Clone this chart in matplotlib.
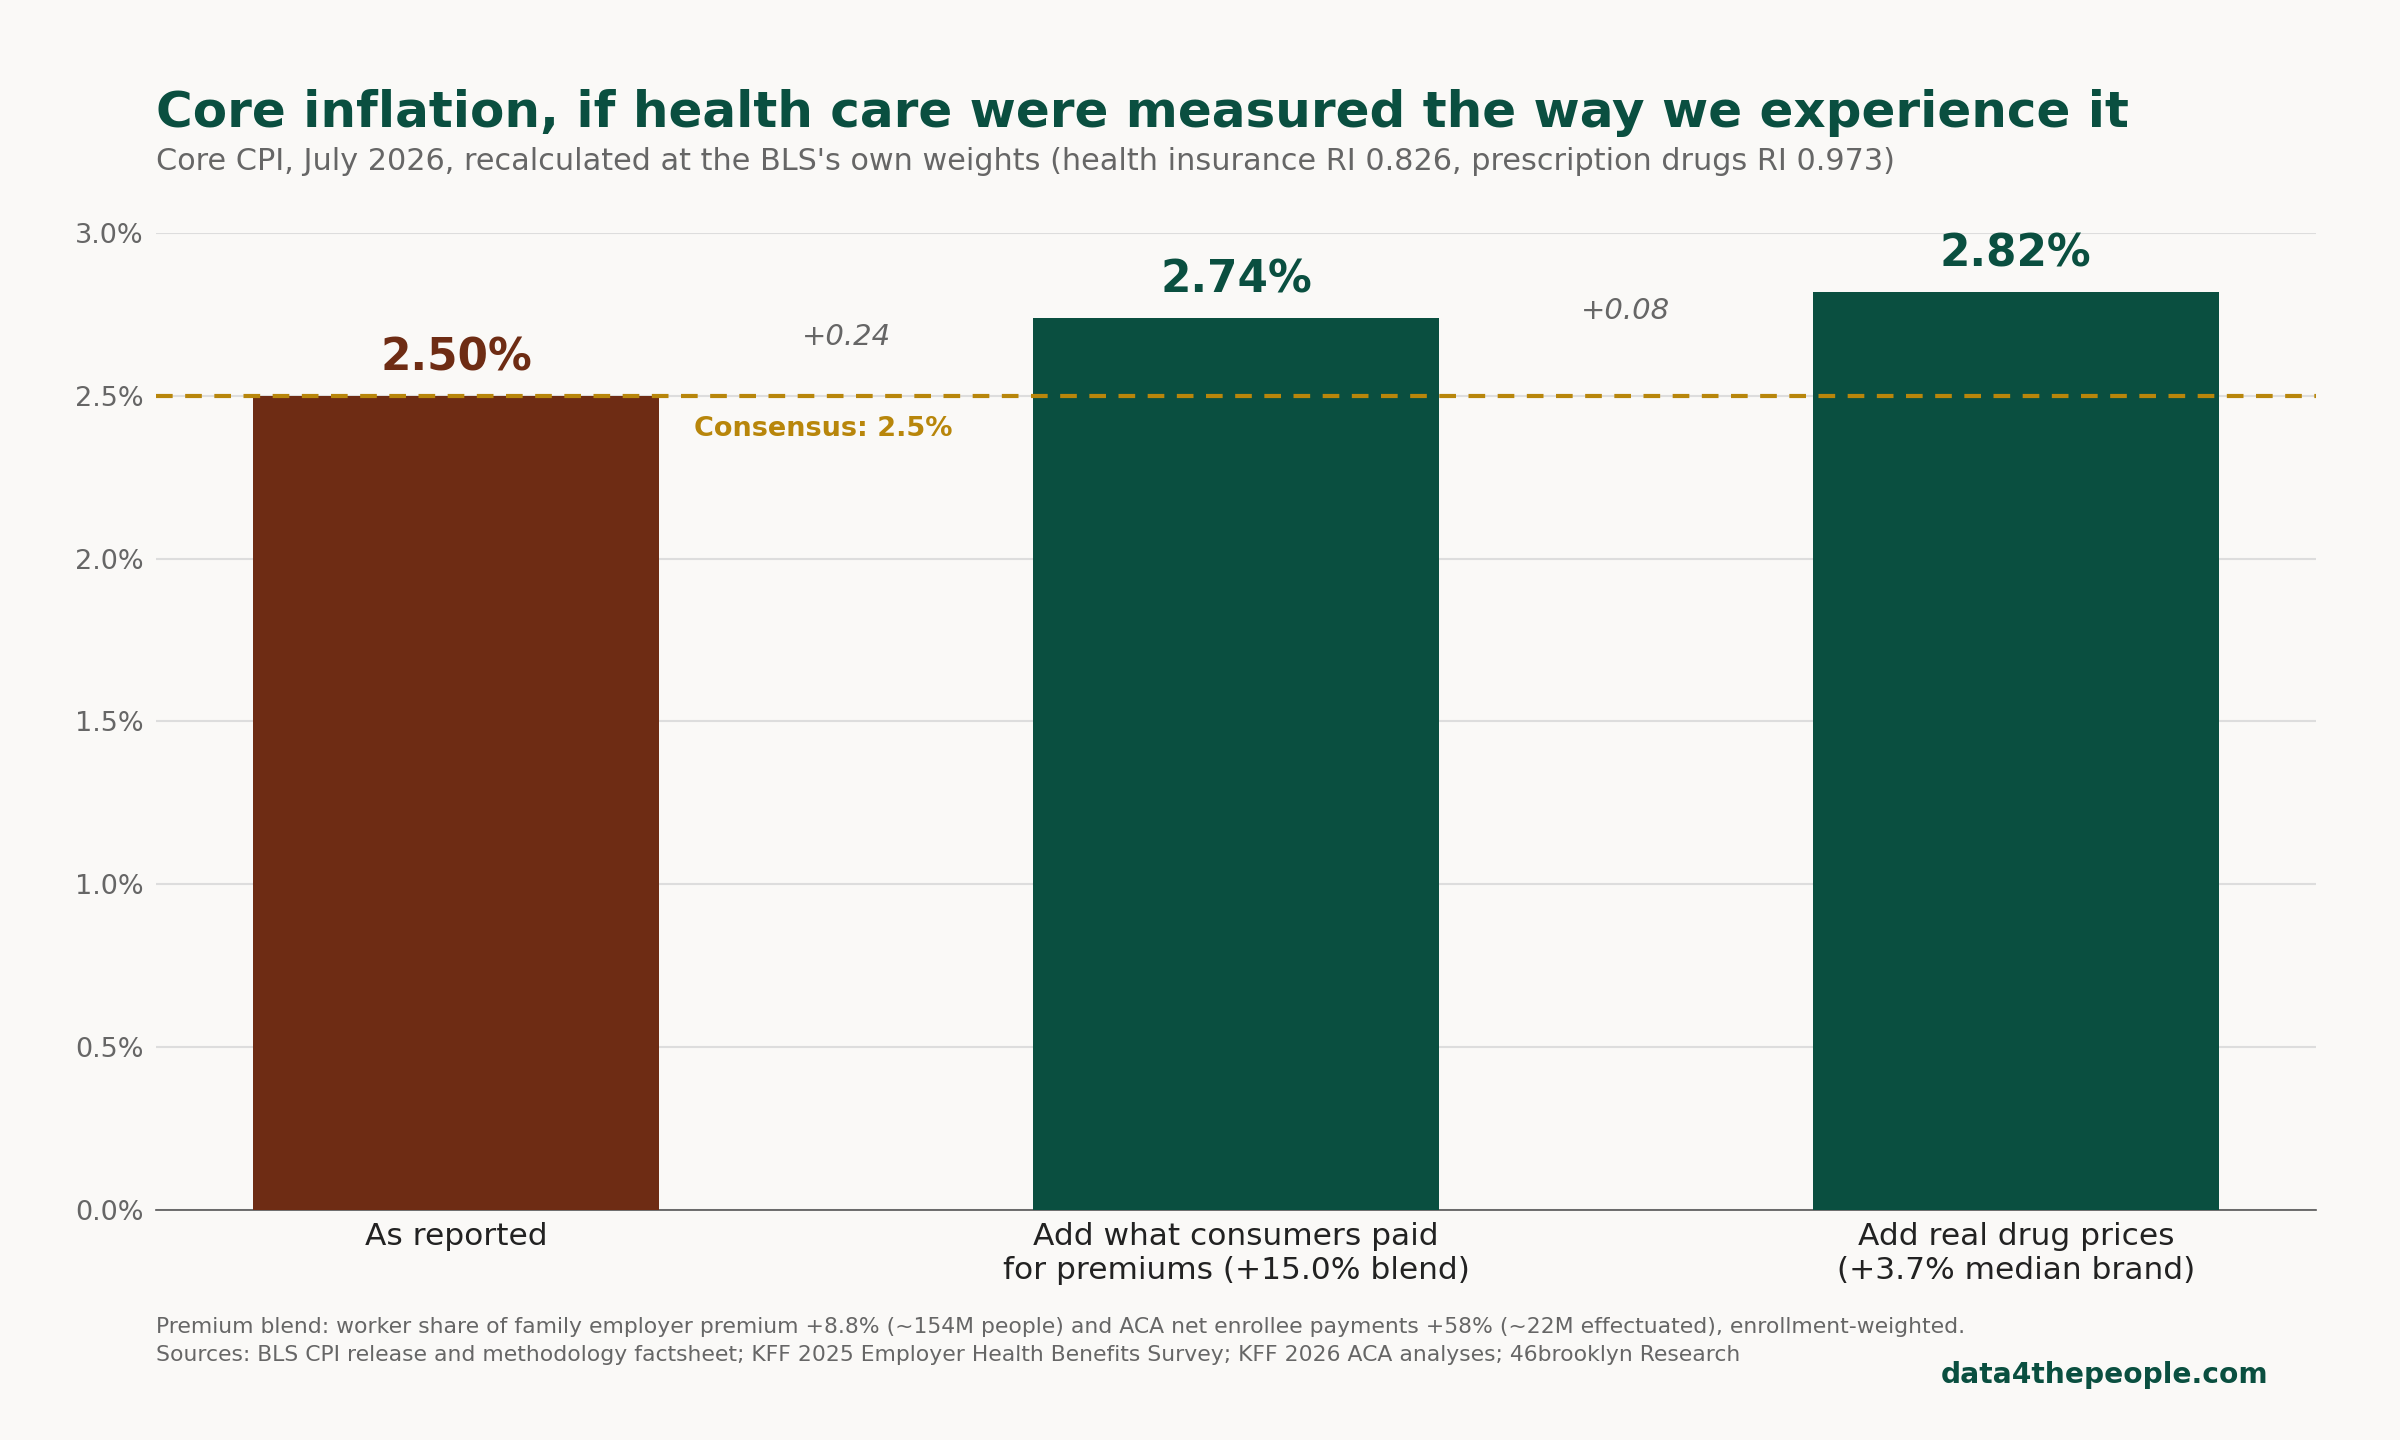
import matplotlib
matplotlib.use("Agg")
import matplotlib.pyplot as plt

categories = ["As reported", "Add what consumers paid\nfor premiums (+15.0% blend)", "Add real drug prices\n(+3.7% median brand)"]
values = [2.50, 2.74, 2.82]
value_labels = ["2.50%", "2.74%", "2.82%"]
deltas = ["+0.24", "+0.08"]
consensus = 2.5
yticks = [0.0, 0.5, 1.0, 1.5, 2.0, 2.5, 3.0]

BG = "#FAF9F7"
BROWN = "#6E2C14"
GREEN = "#0A4F40"
GOLD = "#B8860B"
GREY = "#666666"

fig = plt.figure(figsize=(16, 9.6), dpi=150, facecolor=BG)
ax = fig.add_axes([0.065, 0.16, 0.9, 0.678])
ax.set_facecolor(BG)
colors = [BROWN, GREEN, GREEN]
x = list(range(len(values)))
ax.bar(x, values, width=0.52, color=colors, zorder=3)
ax.set_xlim(-0.385, 2.385)
ax.set_ylim(0, 3.0)
ax.set_yticks(yticks)
ax.set_yticklabels([f"{v:.1f}%" for v in yticks], fontsize=13, color=GREY)
ax.set_xticks(x)
ax.set_xticklabels(categories, fontsize=15, color="#222222")
ax.tick_params(axis="both", length=0, pad=6)
ax.grid(axis="y", color="#DDDDDD", lw=1, zorder=0)
for s in ["top", "right", "left"]:
    ax.spines[s].set_visible(False)
ax.spines["bottom"].set_color("#555555")
ax.axhline(consensus, color=GOLD, ls=(0, (4, 3)), lw=2, zorder=4)
ax.text(0.305, consensus - 0.06, f"Consensus: {consensus}%", color=GOLD, fontsize=13,
        fontweight="bold", va="top", ha="left", zorder=5)
for i, (v, lab) in enumerate(zip(values, value_labels)):
    ax.text(i, v + 0.05, lab, ha="center", va="bottom", fontsize=21, fontweight="bold",
            color=colors[i], zorder=5)
for i, d in enumerate(deltas):
    ax.text(i + 0.5, values[i + 1] - 0.06, d, ha="center", va="center", fontsize=14,
            style="italic", color=GREY)

fig.text(0.065, 0.905, "Core inflation, if health care were measured the way we experience it",
         fontsize=24, fontweight="bold", color=GREEN, va="bottom")
fig.text(0.065, 0.878, "Core CPI, July 2026, recalculated at the BLS's own weights (health insurance RI 0.826, prescription drugs RI 0.973)",
         fontsize=14.5, color=GREY, va="bottom")
fig.text(0.065, 0.052, "Premium blend: worker share of family employer premium +8.8% (~154M people) and ACA net enrollee payments +58% (~22M effectuated), enrollment-weighted.\nSources: BLS CPI release and methodology factsheet; KFF 2025 Employer Health Benefits Survey; KFF 2026 ACA analyses; 46brooklyn Research",
         fontsize=10.5, color=GREY, va="bottom", linespacing=1.5)
fig.text(0.945, 0.045, "data4thepeople.com", fontsize=13.5, fontweight="bold", color=GREEN,
         ha="right", va="center")
fig.savefig("out.png", dpi=150, facecolor=BG)
